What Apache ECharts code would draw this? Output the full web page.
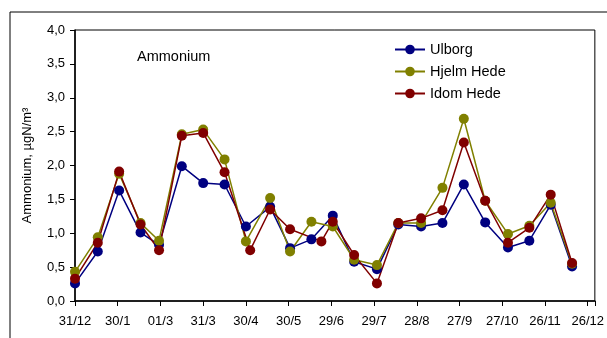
<!DOCTYPE html>
<html>
<head>
<meta charset="utf-8">
<script src="https://cdn.jsdelivr.net/npm/echarts@6/dist/echarts.min.js"></script>
<style>html,body{margin:0;padding:0;background:#fff}#c{width:607px;height:338px}</style>
</head>
<body>
<div id="c"></div>
<script>
// Day offsets from 31/12 (x positions in days)
const days = [0,16,31,46,59,75,90,105,120,137,151,166,181,196,212,227,243,258,273,288,304,319,334,349];
const daysIdom = [0,16,31,46,59,75,90,105,123,137,151,173,181,196,212,227,243,258,273,288,304,319,334,349];
const ulborg = [0.26,0.73,1.63,1.01,0.83,1.99,1.74,1.72,1.10,1.39,0.78,0.91,1.26,0.58,0.47,1.13,1.10,1.15,1.72,1.16,0.79,0.89,1.42,0.51];
const hjelm  = [0.43,0.94,1.88,1.15,0.89,2.46,2.53,2.09,0.88,1.52,0.73,1.17,1.10,0.61,0.53,1.15,1.15,1.67,2.69,1.48,0.99,1.11,1.45,0.55];
const idom   = [0.33,0.86,1.91,1.13,0.75,2.44,2.48,1.90,0.75,1.35,1.06,0.88,1.17,0.68,0.26,1.15,1.22,1.34,2.34,1.48,0.86,1.08,1.57,0.56];
const tickLabels = ['31/12','30/1','01/3','31/3','30/4','30/5','29/6','29/7','28/8','27/9','27/10','26/11','26/12'];
const seriesNames = ['Ulborg','Hjelm Hede','Idom Hede'];
const colors = ['#000080','#808000','#800000'];

const pair = (xs, ys) => xs.map((x, i) => [x, ys[i]]);
const font = 'Liberation Sans, Arial, sans-serif';

const chart = echarts.init(document.getElementById('c'), null, {renderer: 'canvas'});
const mk = (name, data, color) => ({
  name, type: 'line', data, symbol: 'circle', symbolSize: 10,
  lineStyle: {color, width: 1.5}, itemStyle: {color, borderWidth: 0},
  animation: false
});
chart.setOption({
  animation: false,
  graphic: [{type: 'rect', shape: {x: 10, y: 12, width: 700, height: 400}, style: {fill: 'none', stroke: '#000', lineWidth: 1}, silent: true}],
  title: {text: 'Ammonium', left: 132, top: 44, textStyle: {fontFamily: font, fontSize: 14.5, fontWeight: 'normal', color: '#000'}},
  legend: {
    orient: 'vertical', left: 389, top: 37, itemWidth: 30, itemHeight: 12, itemGap: 7, itemStyle: {borderWidth: 0},
    textStyle: {fontFamily: font, fontSize: 14.5, color: '#000'},
    data: seriesNames
  },
  grid: {left: 75, top: 30, right: 10, bottom: 37, show: true, borderColor: '#000', borderWidth: 1, backgroundColor: 'transparent'},
  xAxis: {
    type: 'value', min: 0, max: 365, interval: 30,
    axisLine: {lineStyle: {color: '#000', width: 1.5}},
    axisTick: {length: 5, lineStyle: {color: '#000'}},
    splitLine: {show: false},
    axisLabel: {color: '#000', fontFamily: font, fontSize: 13, margin: 14,
      formatter: v => (v % 30 === 0 && v / 30 < tickLabels.length) ? tickLabels[v / 30] : ''}
  },
  yAxis: {
    type: 'value', min: 0, max: 4, interval: 0.5,
    name: 'Ammonium, µgN/m³', nameLocation: 'middle', nameGap: 41,
    nameTextStyle: {color: '#000', fontFamily: font, fontSize: 13},
    axisLine: {show: true, lineStyle: {color: '#000', width: 1.5}},
    axisTick: {show: true, length: 5, lineStyle: {color: '#000'}},
    splitLine: {show: false},
    axisLabel: {color: '#000', fontFamily: font, fontSize: 13, margin: 10,
      formatter: v => v.toFixed(1).replace('.', ',')}
  },
  series: [
    mk(seriesNames[0], pair(days, ulborg), colors[0]),
    mk(seriesNames[1], pair(days, hjelm), colors[1]),
    mk(seriesNames[2], pair(daysIdom, idom), colors[2])
  ]
});
</script>
</body>
</html>
